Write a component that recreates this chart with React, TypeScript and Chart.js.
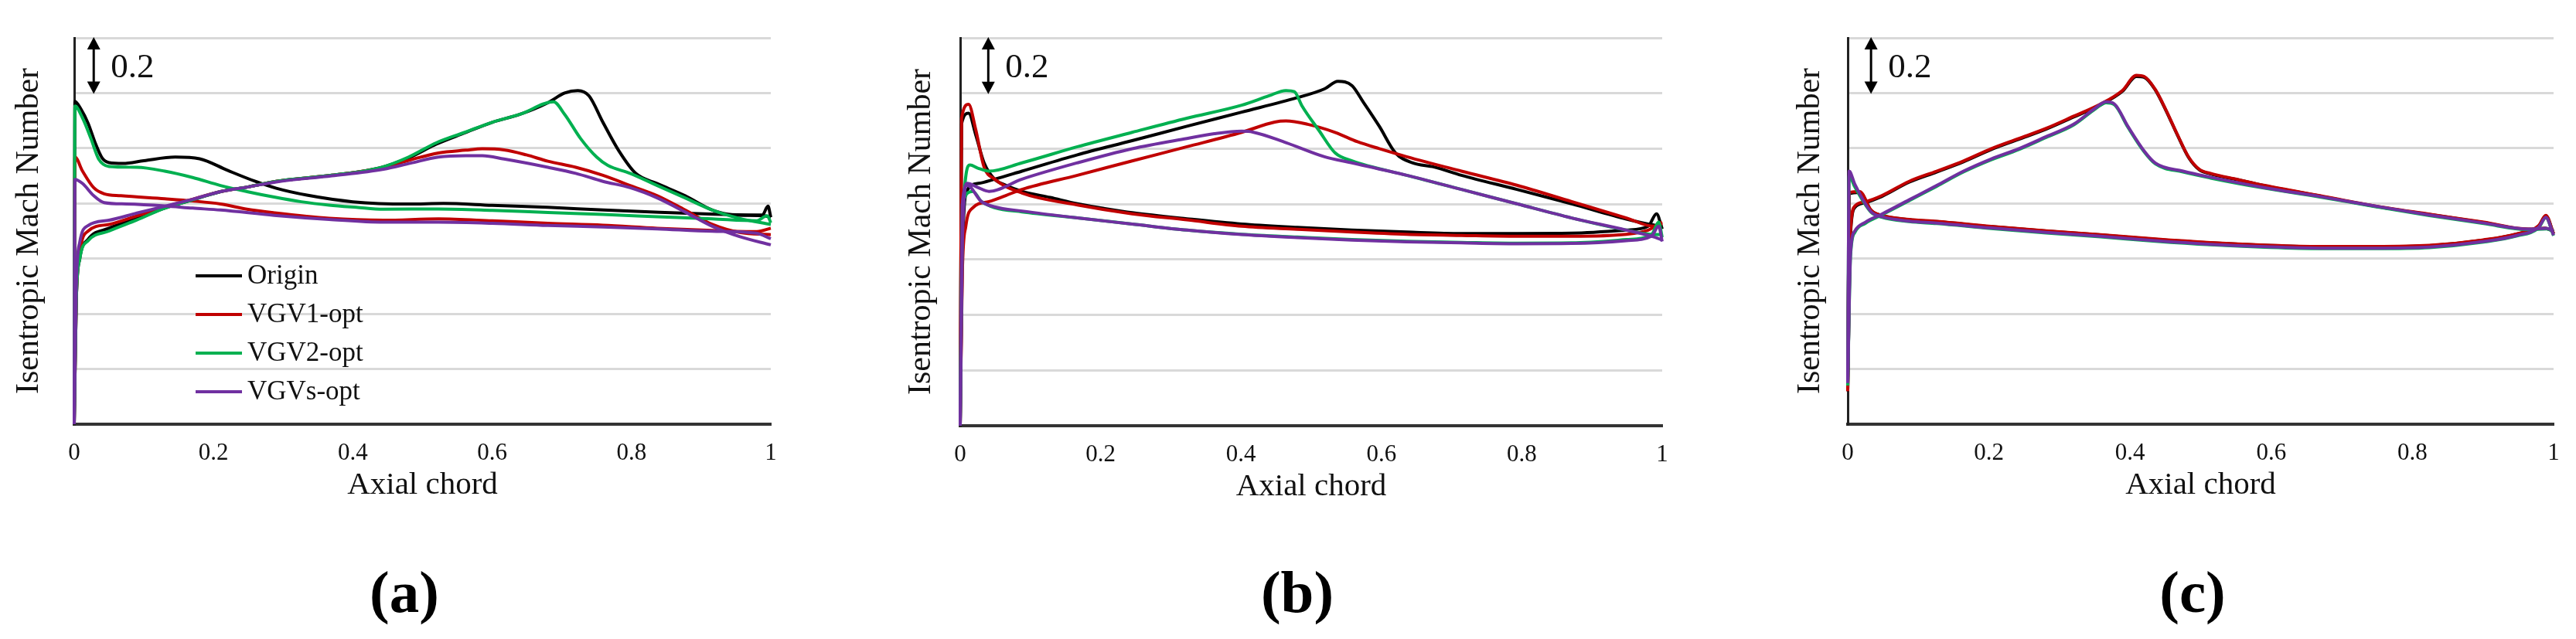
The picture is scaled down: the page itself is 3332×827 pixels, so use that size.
import React, { useEffect, useRef } from 'react';
import { Chart, registerables } from 'chart.js';

Chart.register(...registerables);

type Pt = [number, number];

// ---------- shared labels / scales ----------
const SERIES_NAMES = ['Origin', 'VGV1-opt', 'VGV2-opt', 'VGVs-opt'];
const SERIES_COLORS = ['#000000', '#c00000', '#00b050', '#7030a0'];
const X_TICKS = [0, 0.2, 0.4, 0.6, 0.8, 1];
const Y_GRID = [0, 0.2, 0.4, 0.6, 0.8, 1.0, 1.2, 1.4];
const SCALE_BAR = 0.2;
const SCALE_BAR_LABEL = '0.2';
const X_TITLE = 'Axial chord';
const Y_TITLE = 'Isentropic Mach Number';
const PANEL_LABELS = ['(a)', '(b)', '(c)'];

// ---------- panel (a) ----------
const A_ORIGIN_PS: Pt[] = [[0, 0], [0.001, 1.17], [0.01, 1.14], [0.02, 1.09], [0.03, 1.02], [0.04, 0.965], [0.05, 0.948], [0.07, 0.945], [0.1, 0.955], [0.145, 0.968], [0.18, 0.962], [0.22, 0.92], [0.26, 0.88], [0.29, 0.855], [0.334, 0.83], [0.4, 0.806], [0.48, 0.798], [0.53, 0.8], [0.6, 0.793], [0.68, 0.786], [0.76, 0.776], [0.84, 0.768], [0.92, 0.761], [0.988, 0.758], [0.996, 0.79], [1.0, 0.75]];
const A_ORIGIN_SS: Pt[] = [[0, 0], [0.003, 0.45], [0.008, 0.6], [0.02, 0.67], [0.05, 0.71], [0.09, 0.745], [0.13, 0.783], [0.17, 0.813], [0.21, 0.843], [0.25, 0.86], [0.29, 0.88], [0.37, 0.902], [0.44, 0.93], [0.48, 0.965], [0.52, 1.015], [0.56, 1.055], [0.6, 1.094], [0.64, 1.123], [0.68, 1.165], [0.704, 1.2], [0.723, 1.209], [0.739, 1.19], [0.759, 1.094], [0.782, 0.99], [0.806, 0.909], [0.837, 0.872], [0.877, 0.828], [0.916, 0.776], [0.947, 0.758], [0.99, 0.755], [1.0, 0.75]];
const A_VGV1_PS: Pt[] = [[0, 0], [0.001, 0.968], [0.012, 0.917], [0.028, 0.857], [0.043, 0.835], [0.067, 0.828], [0.13, 0.817], [0.17, 0.809], [0.21, 0.798], [0.248, 0.779], [0.287, 0.766], [0.366, 0.746], [0.444, 0.739], [0.523, 0.744], [0.6, 0.737], [0.68, 0.728], [0.759, 0.721], [0.837, 0.71], [0.916, 0.702], [0.98, 0.698], [1.0, 0.71]];
const A_VGV1_SS: Pt[] = [[0, 0], [0.003, 0.45], [0.008, 0.62], [0.02, 0.7], [0.05, 0.724], [0.09, 0.755], [0.13, 0.787], [0.17, 0.815], [0.21, 0.843], [0.25, 0.86], [0.29, 0.88], [0.37, 0.902], [0.444, 0.93], [0.483, 0.958], [0.523, 0.983], [0.562, 0.993], [0.586, 0.998], [0.617, 0.994], [0.649, 0.976], [0.68, 0.953], [0.72, 0.931], [0.759, 0.902], [0.798, 0.865], [0.837, 0.828], [0.877, 0.776], [0.916, 0.724], [0.955, 0.695], [1.0, 0.687]];
const A_VGV2_PS: Pt[] = [[0, 0], [0.001, 1.153], [0.012, 1.109], [0.024, 1.035], [0.035, 0.961], [0.05, 0.934], [0.09, 0.931], [0.13, 0.917], [0.17, 0.894], [0.21, 0.865], [0.248, 0.843], [0.287, 0.823], [0.326, 0.806], [0.366, 0.794], [0.405, 0.786], [0.444, 0.779], [0.523, 0.78], [0.6, 0.775], [0.68, 0.767], [0.759, 0.76], [0.837, 0.752], [0.916, 0.744], [0.979, 0.737], [0.995, 0.755], [1.0, 0.73]];
const A_VGV2_SS: Pt[] = [[0, 0], [0.003, 0.45], [0.008, 0.6], [0.02, 0.665], [0.05, 0.7], [0.09, 0.74], [0.13, 0.783], [0.17, 0.813], [0.21, 0.843], [0.25, 0.86], [0.29, 0.88], [0.37, 0.902], [0.44, 0.93], [0.48, 0.968], [0.52, 1.02], [0.56, 1.057], [0.6, 1.094], [0.64, 1.123], [0.688, 1.168], [0.704, 1.123], [0.727, 1.035], [0.75, 0.968], [0.766, 0.938], [0.798, 0.909], [0.837, 0.865], [0.877, 0.82], [0.916, 0.776], [0.955, 0.746], [1.0, 0.724]];
const A_VGVS_PS: Pt[] = [[0, 0], [0.001, 0.887], [0.012, 0.872], [0.028, 0.828], [0.043, 0.803], [0.075, 0.798], [0.13, 0.791], [0.17, 0.783], [0.21, 0.776], [0.287, 0.757], [0.366, 0.742], [0.444, 0.732], [0.523, 0.732], [0.6, 0.728], [0.68, 0.72], [0.759, 0.715], [0.837, 0.708], [0.916, 0.699], [0.979, 0.692], [1.0, 0.672]];
const A_VGVS_SS: Pt[] = [[0, 0], [0.003, 0.5], [0.008, 0.66], [0.02, 0.72], [0.05, 0.739], [0.09, 0.765], [0.13, 0.79], [0.17, 0.815], [0.21, 0.843], [0.25, 0.86], [0.29, 0.878], [0.37, 0.9], [0.444, 0.924], [0.483, 0.946], [0.523, 0.968], [0.562, 0.973], [0.586, 0.973], [0.617, 0.961], [0.68, 0.931], [0.72, 0.909], [0.759, 0.88], [0.798, 0.857], [0.837, 0.82], [0.877, 0.769], [0.916, 0.717], [0.955, 0.68], [1.0, 0.65]];

// ---------- panel (b) ----------
const B_ORIGIN_PS: Pt[] = [[0, 0], [0.002, 1.09], [0.012, 1.128], [0.022, 1.051], [0.034, 0.949], [0.049, 0.89], [0.065, 0.868], [0.088, 0.846], [0.128, 0.824], [0.167, 0.801], [0.206, 0.784], [0.245, 0.769], [0.323, 0.747], [0.401, 0.728], [0.48, 0.716], [0.558, 0.706], [0.636, 0.699], [0.714, 0.694], [0.793, 0.694], [0.871, 0.695], [0.949, 0.706], [0.98, 0.72], [0.992, 0.765], [1.0, 0.71]];
const B_ORIGIN_SS: Pt[] = [[0, 0], [0.003, 0.6], [0.01, 0.85], [0.026, 0.875], [0.049, 0.89], [0.088, 0.919], [0.167, 0.978], [0.245, 1.029], [0.323, 1.081], [0.401, 1.132], [0.48, 1.184], [0.519, 1.216], [0.538, 1.243], [0.558, 1.228], [0.574, 1.169], [0.597, 1.081], [0.62, 0.985], [0.644, 0.949], [0.675, 0.934], [0.714, 0.904], [0.793, 0.853], [0.871, 0.801], [0.949, 0.746], [0.98, 0.728], [1.0, 0.72]];
const B_VGV1_PS: Pt[] = [[0, 0], [0.002, 1.11], [0.012, 1.16], [0.022, 1.07], [0.034, 0.934], [0.049, 0.89], [0.088, 0.84], [0.167, 0.797], [0.245, 0.765], [0.323, 0.743], [0.401, 0.72], [0.48, 0.709], [0.558, 0.699], [0.636, 0.691], [0.714, 0.687], [0.793, 0.684], [0.871, 0.684], [0.949, 0.691], [0.98, 0.706], [1.0, 0.735]];
const B_VGV1_SS: Pt[] = [[0, 0], [0.003, 0.55], [0.008, 0.72], [0.018, 0.787], [0.041, 0.809], [0.065, 0.831], [0.088, 0.853], [0.167, 0.904], [0.245, 0.956], [0.323, 1.007], [0.401, 1.059], [0.448, 1.096], [0.464, 1.1], [0.495, 1.088], [0.534, 1.059], [0.566, 1.025], [0.597, 1.0], [0.636, 0.971], [0.714, 0.919], [0.793, 0.868], [0.871, 0.809], [0.949, 0.75], [0.988, 0.72], [1.0, 0.73]];
const B_VGV2_PS: Pt[] = [[0, 0], [0.003, 0.8], [0.018, 0.846], [0.03, 0.81], [0.049, 0.787], [0.088, 0.772], [0.167, 0.75], [0.245, 0.728], [0.323, 0.706], [0.401, 0.691], [0.48, 0.681], [0.558, 0.672], [0.636, 0.666], [0.714, 0.662], [0.793, 0.659], [0.871, 0.66], [0.949, 0.672], [0.985, 0.69], [0.995, 0.735], [1.0, 0.68]];
const B_VGV2_SS: Pt[] = [[0, 0], [0.003, 0.7], [0.014, 0.941], [0.025, 0.93], [0.041, 0.919], [0.088, 0.949], [0.167, 1.007], [0.245, 1.059], [0.323, 1.11], [0.401, 1.157], [0.44, 1.191], [0.464, 1.21], [0.476, 1.206], [0.487, 1.154], [0.511, 1.066], [0.534, 0.985], [0.558, 0.956], [0.636, 0.904], [0.714, 0.853], [0.793, 0.801], [0.871, 0.75], [0.949, 0.706], [0.988, 0.69], [1.0, 0.69]];
const B_VGVS_PS: Pt[] = [[0, 0], [0.003, 0.8], [0.01, 0.868], [0.03, 0.81], [0.049, 0.79], [0.088, 0.775], [0.167, 0.75], [0.245, 0.728], [0.323, 0.706], [0.401, 0.69], [0.48, 0.679], [0.558, 0.67], [0.636, 0.664], [0.714, 0.66], [0.793, 0.657], [0.871, 0.658], [0.949, 0.668], [0.985, 0.685], [0.995, 0.72], [1.0, 0.665]];
const B_VGVS_SS: Pt[] = [[0, 0], [0.003, 0.65], [0.01, 0.875], [0.025, 0.86], [0.041, 0.846], [0.088, 0.89], [0.167, 0.949], [0.245, 1.0], [0.323, 1.037], [0.362, 1.054], [0.401, 1.063], [0.417, 1.06], [0.464, 1.022], [0.519, 0.971], [0.558, 0.949], [0.636, 0.904], [0.714, 0.853], [0.793, 0.801], [0.871, 0.75], [0.949, 0.706], [0.99, 0.68], [1.0, 0.67]];

// ---------- panel (c) ----------
const C_ORIGIN_PS: Pt[] = [[0, 0.12], [0.002, 0.835], [0.017, 0.84], [0.033, 0.775], [0.048, 0.756], [0.087, 0.741], [0.126, 0.734], [0.203, 0.716], [0.281, 0.7], [0.358, 0.686], [0.436, 0.67], [0.514, 0.657], [0.591, 0.648], [0.669, 0.643], [0.746, 0.643], [0.824, 0.647], [0.901, 0.667], [0.948, 0.689], [0.979, 0.719], [0.989, 0.755], [1.0, 0.69]];
const C_ORIGIN_SS: Pt[] = [[0, 0.12], [0.004, 0.69], [0.01, 0.785], [0.025, 0.803], [0.048, 0.825], [0.087, 0.877], [0.126, 0.914], [0.164, 0.951], [0.203, 0.995], [0.242, 1.032], [0.281, 1.069], [0.32, 1.113], [0.358, 1.157], [0.389, 1.206], [0.409, 1.26], [0.42, 1.257], [0.436, 1.21], [0.451, 1.136], [0.467, 1.048], [0.483, 0.966], [0.498, 0.922], [0.514, 0.907], [0.552, 0.886], [0.591, 0.864], [0.669, 0.827], [0.746, 0.79], [0.824, 0.76], [0.901, 0.731], [0.964, 0.706], [0.988, 0.71], [1.0, 0.7]];
const C_VGV1_PS: Pt[] = [[0, 0.12], [0.002, 0.84], [0.017, 0.843], [0.033, 0.776], [0.048, 0.757], [0.087, 0.742], [0.126, 0.735], [0.203, 0.717], [0.281, 0.701], [0.358, 0.687], [0.436, 0.671], [0.514, 0.658], [0.591, 0.649], [0.669, 0.644], [0.746, 0.644], [0.824, 0.648], [0.901, 0.668], [0.948, 0.69], [0.979, 0.72], [0.989, 0.757], [1.0, 0.69]];
const C_VGV1_SS: Pt[] = [[0, 0.12], [0.004, 0.7], [0.01, 0.79], [0.025, 0.806], [0.048, 0.828], [0.087, 0.88], [0.126, 0.917], [0.164, 0.954], [0.203, 0.998], [0.242, 1.035], [0.281, 1.072], [0.32, 1.116], [0.358, 1.16], [0.389, 1.209], [0.409, 1.264], [0.42, 1.26], [0.436, 1.212], [0.451, 1.138], [0.467, 1.05], [0.483, 0.968], [0.498, 0.924], [0.514, 0.909], [0.552, 0.887], [0.591, 0.865], [0.669, 0.828], [0.746, 0.791], [0.824, 0.761], [0.901, 0.732], [0.964, 0.707], [0.988, 0.71], [1.0, 0.7]];
const C_VGV2_PS: Pt[] = [[0, 0.14], [0.002, 0.9], [0.01, 0.86], [0.033, 0.768], [0.048, 0.75], [0.087, 0.734], [0.126, 0.727], [0.203, 0.709], [0.281, 0.693], [0.358, 0.679], [0.436, 0.663], [0.514, 0.65], [0.591, 0.641], [0.669, 0.636], [0.746, 0.636], [0.824, 0.64], [0.901, 0.66], [0.948, 0.682], [0.979, 0.712], [0.989, 0.748], [1.0, 0.683]];
const C_VGV2_SS: Pt[] = [[0, 0.14], [0.004, 0.61], [0.01, 0.695], [0.025, 0.728], [0.048, 0.758], [0.087, 0.81], [0.126, 0.862], [0.164, 0.914], [0.203, 0.958], [0.242, 0.995], [0.281, 1.039], [0.32, 1.084], [0.351, 1.143], [0.366, 1.165], [0.378, 1.157], [0.397, 1.076], [0.42, 0.987], [0.436, 0.943], [0.475, 0.914], [0.514, 0.892], [0.591, 0.855], [0.669, 0.823], [0.746, 0.789], [0.824, 0.756], [0.901, 0.727], [0.964, 0.705], [0.99, 0.708], [1.0, 0.698]];
const C_VGVS_PS: Pt[] = [[0, 0.15], [0.002, 0.917], [0.01, 0.87], [0.033, 0.77], [0.048, 0.752], [0.087, 0.736], [0.126, 0.729], [0.203, 0.711], [0.281, 0.695], [0.358, 0.681], [0.436, 0.665], [0.514, 0.652], [0.591, 0.643], [0.669, 0.638], [0.746, 0.638], [0.824, 0.642], [0.901, 0.662], [0.948, 0.684], [0.979, 0.714], [0.989, 0.75], [1.0, 0.685]];
const C_VGVS_SS: Pt[] = [[0, 0.15], [0.004, 0.62], [0.01, 0.7], [0.025, 0.732], [0.048, 0.761], [0.087, 0.813], [0.126, 0.865], [0.164, 0.917], [0.203, 0.961], [0.242, 0.998], [0.281, 1.042], [0.32, 1.087], [0.351, 1.146], [0.366, 1.168], [0.378, 1.16], [0.397, 1.079], [0.42, 0.99], [0.436, 0.946], [0.475, 0.917], [0.514, 0.895], [0.591, 0.857], [0.669, 0.825], [0.746, 0.791], [0.824, 0.758], [0.901, 0.729], [0.964, 0.707], [0.99, 0.71], [1.0, 0.7]];

const PANEL_SERIES: Pt[][][] = [
  [[A_ORIGIN_PS, A_ORIGIN_SS], [A_VGV1_PS, A_VGV1_SS], [A_VGV2_PS, A_VGV2_SS], [A_VGVS_PS, A_VGVS_SS]],
  [[B_ORIGIN_PS, B_ORIGIN_SS], [B_VGV1_PS, B_VGV1_SS], [B_VGV2_PS, B_VGV2_SS], [B_VGVS_PS, B_VGVS_SS]],
  [[C_ORIGIN_PS, C_ORIGIN_SS], [C_VGV1_PS, C_VGV1_SS], [C_VGV2_PS, C_VGV2_SS], [C_VGVS_PS, C_VGVS_SS]],
];

// ---------- layout (pixels) ----------
const PANELS = [
  { left: 0, width: 1111, plotL: 96, plotR: 997, plotT: 49, plotB: 549, yTitleX: 38, labelX: 523, arrowX: 0.028, legend: true },
  { left: 1111, width: 1111, plotL: 131, plotR: 1039, plotT: 49, plotB: 551, yTitleX: 81, labelX: 567, arrowX: 0.04, legend: false },
  { left: 2222, width: 1110, plotL: 168, plotR: 1081, plotT: 49, plotB: 549, yTitleX: 120, labelX: 614, arrowX: 0.033, legend: false },
];
const H = 827;
const FONT = 'Liberation Serif';
const TEXT = '#111111';

function makeDecor(idx: number) {
  const p = PANELS[idx];
  return {
    id: 'decor' + idx,
    afterDraw(chart: any) {
      const ctx = chart.ctx as CanvasRenderingContext2D;
      const xs = chart.scales.x;
      const ys = chart.scales.y;
      const area = chart.chartArea;
      ctx.save();
      // scale bar arrow
      const ax = xs.getPixelForValue(p.arrowX);
      const yTop = ys.getPixelForValue(ys.max);
      const yBot = ys.getPixelForValue(ys.max - SCALE_BAR);
      const head = 15;
      const hw = 8.5;
      ctx.strokeStyle = '#000';
      ctx.fillStyle = '#000';
      ctx.lineWidth = 3;
      ctx.beginPath();
      ctx.moveTo(ax, yTop + head - 2);
      ctx.lineTo(ax, yBot - head + 2);
      ctx.stroke();
      ctx.beginPath();
      ctx.moveTo(ax, yTop - 1);
      ctx.lineTo(ax - hw, yTop + head);
      ctx.lineTo(ax + hw, yTop + head);
      ctx.closePath();
      ctx.fill();
      ctx.beginPath();
      ctx.moveTo(ax, yBot + 1);
      ctx.lineTo(ax - hw, yBot - head);
      ctx.lineTo(ax + hw, yBot - head);
      ctx.closePath();
      ctx.fill();
      ctx.font = `45px "${FONT}"`;
      ctx.fillStyle = TEXT;
      ctx.textBaseline = 'middle';
      ctx.textAlign = 'left';
      ctx.fillText(SCALE_BAR_LABEL, ax + 22, (yTop + yBot) / 2 + 3);

      // legend
      if (p.legend) {
        const lx = area.left + 157;
        const ly0 = area.top + 308;
        ctx.font = `35px "${FONT}"`;
        SERIES_NAMES.forEach((name, i) => {
          const y = ly0 + i * 50;
          ctx.strokeStyle = SERIES_COLORS[i];
          ctx.lineWidth = 4;
          ctx.beginPath();
          ctx.moveTo(lx, y);
          ctx.lineTo(lx + 60, y);
          ctx.stroke();
          ctx.fillStyle = TEXT;
          ctx.fillText(name, lx + 67, y + 1);
        });
      }

      // panel label
      ctx.font = `bold 77px "${FONT}"`;
      ctx.fillStyle = '#000';
      ctx.textAlign = 'center';
      ctx.textBaseline = 'middle';
      ctx.fillText(PANEL_LABELS[idx], p.labelX, 772);
      ctx.restore();
    },
  };
}

function buildConfig(idx: number): any {
  const p = PANELS[idx];
  const datasets: any[] = [];
  PANEL_SERIES[idx].forEach((branches, s) => {
    branches.forEach((branch) => {
      datasets.push({
        label: SERIES_NAMES[s],
        data: branch.map(([x, y]) => ({ x, y })),
        borderColor: SERIES_COLORS[s],
        backgroundColor: SERIES_COLORS[s],
        borderWidth: 4,
        pointRadius: 0,
        fill: false,
        cubicInterpolationMode: 'monotone',
        clip: false,
        order: 10 - s,
      });
    });
  });
  const xScaleH = 120;
  return {
    type: 'line',
    data: { datasets },
    options: {
      responsive: false,
      animation: false,
      devicePixelRatio: 1,
      layout: {
        padding: { left: 0, top: p.plotT, right: p.width - p.plotR, bottom: H - p.plotB - xScaleH },
      },
      plugins: {
        legend: { display: false },
        tooltip: { enabled: false },
        title: { display: false },
      },
      scales: {
        x: {
          type: 'linear',
          min: 0,
          max: 1,
          afterBuildTicks: (sc: any) => { sc.ticks = X_TICKS.map((v) => ({ value: v })); },
          afterFit: (sc: any) => { sc.height = xScaleH; },
          grid: { display: false, drawTicks: false },
          border: { display: true, color: '#333333', width: 4 },
          ticks: {
            padding: 19,
            color: TEXT,
            font: { family: FONT, size: 31 },
            maxRotation: 0,
            callback: (v: any) => String(Math.round(Number(v) * 10) / 10),
          },
          title: {
            display: true,
            text: X_TITLE,
            color: TEXT,
            font: { family: FONT, size: 41 },
            padding: { top: 0, bottom: 16 },
          },
        },
        y: {
          type: 'linear',
          min: Y_GRID[0],
          max: Y_GRID[Y_GRID.length - 1],
          afterBuildTicks: (sc: any) => { sc.ticks = Y_GRID.map((v) => ({ value: v })); },
          afterFit: (sc: any) => { sc.width = p.plotL; },
          ticks: { display: false },
          grid: {
            drawTicks: false,
            lineWidth: 3,
            color: (c: any) => (c.tick && c.tick.value === 0 ? 'rgba(0,0,0,0)' : '#d9d9d9'),
          },
          border: { display: true, color: '#222222', width: 3 },
          title: {
            display: true,
            text: Y_TITLE,
            color: TEXT,
            font: { family: FONT, size: 42 },
            padding: { top: p.yTitleX - 25.2, bottom: 0 },
          },
        },
      },
    },
    plugins: [makeDecor(idx)],
  };
}

function Panel({ idx }: { idx: number }) {
  const ref = useRef<HTMLCanvasElement | null>(null);
  useEffect(() => {
    if (!ref.current) return;
    const chart = new Chart(ref.current, buildConfig(idx));
    return () => chart.destroy();
  }, [idx]);
  const p = PANELS[idx];
  return (
    <canvas
      ref={ref}
      width={p.width}
      height={H}
      style={{ position: 'absolute', left: p.left, top: 0, width: p.width, height: H }}
    />
  );
}

export default function App() {
  return (
    <div style={{ position: 'absolute', left: 0, top: 0, width: 3332, height: H, background: '#ffffff' }}>
      {PANELS.map((_, i) => (
        <Panel key={i} idx={i} />
      ))}
    </div>
  );
}
